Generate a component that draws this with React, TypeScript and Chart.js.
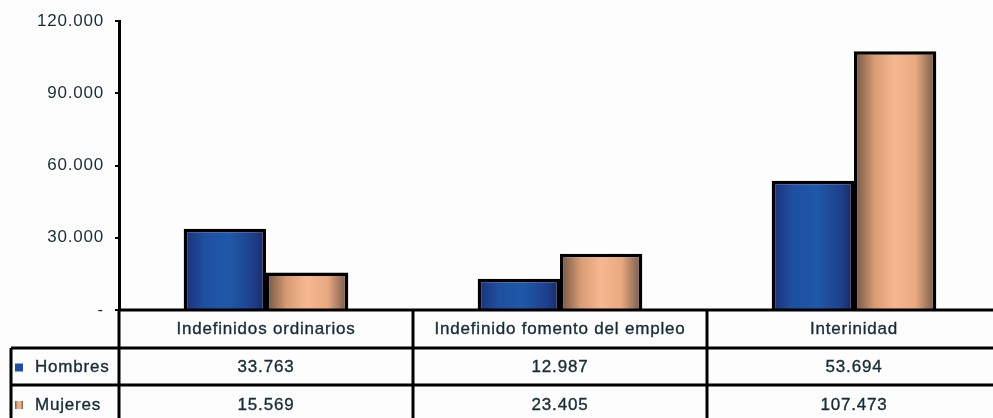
import React, { useEffect, useRef } from "react";
import { Chart, registerables } from "chart.js";

Chart.register(...registerables);

const categories = ["Indefinidos ordinarios", "Indefinido fomento del empleo", "Interinidad"];
const seriesNames = ["Hombres", "Mujeres"];
const hombres = [33763, 12987, 53694];
const mujeres = [15569, 23405, 107473];
const yTicks = [0, 30000, 60000, 90000, 120000];

const CAT_PCT = 0.56;
const FONT = "'Liberation Sans', Arial, sans-serif";
const TEXT = "#162c36";
const SPACING = "0.8px";

const fmt = (v: number) =>
  v === 0 ? "-" : v.toString().replace(/\B(?=(\d{3})+(?!\d))/g, ".");

function makeGrad(c: CanvasRenderingContext2D, l: number, r: number, dsIndex: number) {
  const g = c.createLinearGradient(l, 0, r, 0);
  if (dsIndex === 0) {
    g.addColorStop(0, "#1a2f78");
    g.addColorStop(0.25, "#1f4fa0");
    g.addColorStop(0.55, "#2058a8");
    g.addColorStop(0.85, "#1d3f8c");
    g.addColorStop(1, "#1a2560");
  } else {
    g.addColorStop(0, "#6e5240");
    g.addColorStop(0.25, "#d89c74");
    g.addColorStop(0.5, "#f6b890");
    g.addColorStop(0.75, "#e8a880");
    g.addColorStop(1, "#6e5444");
  }
  return g;
}

const bgPlugin = {
  id: "bg",
  beforeDraw(chart: any) {
    const c = chart.ctx;
    c.save();
    c.fillStyle = "#fdfdfe";
    c.fillRect(0, 0, chart.width, chart.height);
    c.restore();
    (c as any).letterSpacing = SPACING;
  },
};

const tablePlugin = {
  id: "table",
  afterDraw(chart: any) {
    const c: CanvasRenderingContext2D = chart.ctx;
    const area = chart.chartArea;
    const xs = chart.scales.x;
    const left = area.left;
    const right = area.right;
    const catW = (right - left) / categories.length;
    const r0 = area.bottom;
    const r1 = r0 + 38;
    const r2 = r1 + 37;
    const r3 = r2 + 38;
    const legL = 11;
    c.save();
    (c as any).letterSpacing = SPACING;
    c.strokeStyle = "#000";
    c.lineWidth = 3;
    c.beginPath();
    c.moveTo(left, r0); c.lineTo(right, r0);
    c.moveTo(legL, r1); c.lineTo(right, r1);
    c.moveTo(legL, r2); c.lineTo(right, r2);
    c.moveTo(legL, r1); c.lineTo(legL, r3);
    for (let i = 0; i <= categories.length; i++) {
      const x = left + i * catW;
      c.moveTo(x, r0); c.lineTo(x, r3);
    }
    c.stroke();

    c.fillStyle = TEXT;
    c.strokeStyle = TEXT;
    c.lineWidth = 0.35;
    c.font = `17px ${FONT}`;
    c.textAlign = "center";
    c.textBaseline = "middle";
    const txt = (s: string, x: number, y: number) => {
      c.fillText(s, x, y);
      c.strokeText(s, x, y);
    };
    const rows = [hombres, mujeres];
    categories.forEach((cat, i) => {
      const cx = xs.getPixelForValue(i);
      txt(cat, cx, (r0 + r1) / 2);
      rows.forEach((row, j) => {
        txt(fmt(row[i]), cx, (j === 0 ? (r1 + r2) / 2 : (r2 + r3) / 2) + 1);
      });
    });
    c.textAlign = "left";
    seriesNames.forEach((name, j) => {
      const cy = j === 0 ? (r1 + r2) / 2 + 1 : (r2 + r3) / 2 + 1;
      const sq = 8;
      const sx = 15;
      c.fillStyle = j === 0 ? "#1f4fa0" : (makeGrad(c, sx, sx + sq, j) as any);
      c.fillRect(sx, cy - sq / 2, sq, sq);
      c.fillStyle = TEXT;
      txt(name, 35, cy);
    });
    c.restore();
  },
};

export default function App() {
  const ref = useRef<HTMLCanvasElement | null>(null);
  useEffect(() => {
    const prevMargin = document.body.style.margin;
    document.body.style.margin = "0";
    const canvas = ref.current!;
    const bg = (dsIndex: number) => (ctx: any) => {
      const chart = ctx.chart;
      const xs = chart.scales?.x;
      if (ctx.type !== "data" || !xs || !chart.chartArea) return dsIndex === 0 ? "#1f4fa0" : "#f6b890";
      const center = xs.getPixelForValue(ctx.dataIndex);
      const catW = (chart.chartArea.right - chart.chartArea.left) / categories.length;
      const bw = (catW * CAT_PCT) / 2;
      const l = dsIndex === 0 ? center - bw : center;
      return makeGrad(chart.ctx, l, l + bw, dsIndex);
    };
    const chart = new Chart(canvas, {
      type: "bar",
      data: {
        labels: categories,
        datasets: [
          { label: seriesNames[0], data: hombres, backgroundColor: bg(0), borderColor: "#000", borderWidth: 3.5, borderSkipped: "bottom" },
          { label: seriesNames[1], data: mujeres, backgroundColor: bg(1), borderColor: "#000", borderWidth: 3.5, borderSkipped: "bottom" },
        ],
      },
      options: {
        responsive: false,
        animation: false,
        devicePixelRatio: 1,
        layout: { padding: { top: 20, bottom: 108, left: 0, right: 0 } },
        datasets: { bar: { categoryPercentage: CAT_PCT, barPercentage: 1 } },
        plugins: { legend: { display: false }, tooltip: { enabled: false } },
        scales: {
          x: { display: false },
          y: {
            min: 0,
            max: 120000,
            afterFit: (s: any) => { s.width = 119; },
            afterBuildTicks: (s: any) => { s.ticks = yTicks.map((v) => ({ value: v })); },
            border: { display: true, color: "#000", width: 3 },
            grid: { drawOnChartArea: false, drawTicks: true, tickLength: 4, color: "#000", lineWidth: 2 },
            ticks: {
              padding: 11,
              color: TEXT,
              font: { family: FONT, size: 17 },
              callback: (v: any) => fmt(Number(v)),
            },
          },
        },
      },
      plugins: [bgPlugin, tablePlugin],
    });
    return () => {
      chart.destroy();
      document.body.style.margin = prevMargin;
    };
  }, []);
  return (
    <div style={{ position: "fixed", left: 0, top: 0, width: 993, height: 418, overflow: "hidden", background: "#fdfdfe" }}>
      <canvas ref={ref} width={1001} height={418} style={{ display: "block", width: 1001, height: 418 }} />
    </div>
  );
}
